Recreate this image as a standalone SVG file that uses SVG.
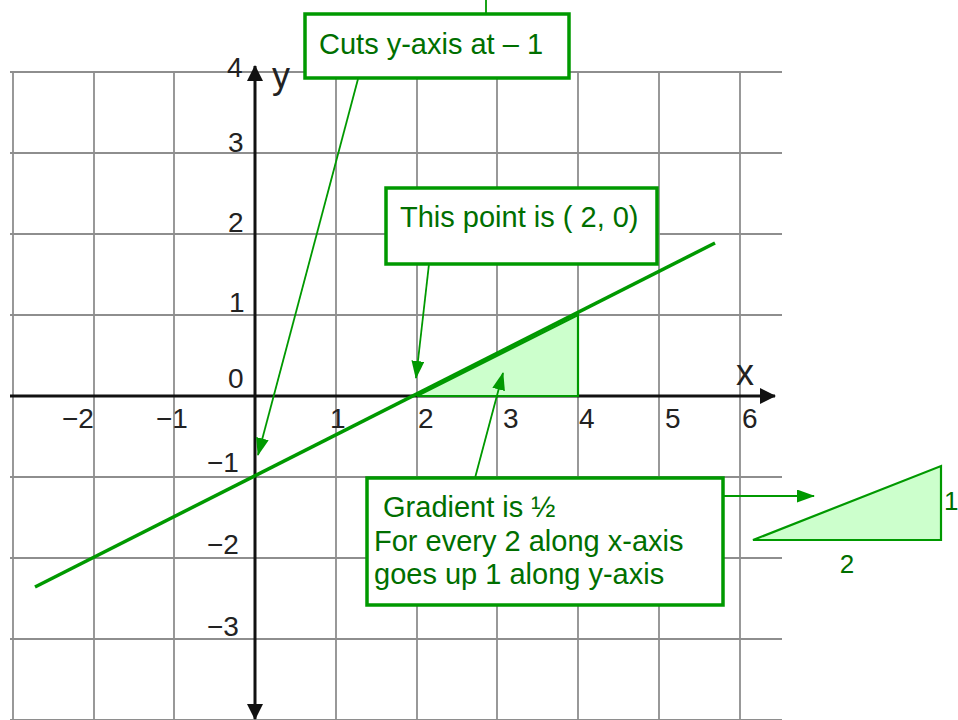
<svg xmlns="http://www.w3.org/2000/svg" width="958" height="720" viewBox="0 0 958 720">
<style>
.grid{stroke:#8e8e8e;stroke-width:1.8;fill:none}
.axis{stroke:#111;stroke-width:3;fill:none}
.num{font-family:"Liberation Sans",Arial,sans-serif;font-size:28px;fill:#222}
.var{font-family:"Liberation Sans",Arial,sans-serif;font-size:36px;fill:#222}
.box{fill:#fff;stroke:#009900;stroke-width:3.5}
.lbl{font-family:"Liberation Sans",Arial,sans-serif;font-size:29px;fill:#006f00}
.lead{stroke:#009900;stroke-width:1.8;fill:none}
.tri{fill:#ccffcc;stroke:#009900;stroke-width:2.2}
</style>
<defs>
<marker id="ga" viewBox="0 0 18 13" refX="17" refY="6.5" markerWidth="18" markerHeight="13" markerUnits="userSpaceOnUse" orient="auto">
<path d="M0,0 L18,6.5 L0,13 Z" fill="#009900"/>
</marker>
<marker id="ka" viewBox="0 0 16 16" refX="15" refY="8" markerWidth="16" markerHeight="16" markerUnits="userSpaceOnUse" orient="auto">
<path d="M0,0 L16,8 L0,16 Z" fill="#111"/>
</marker>
</defs>
<rect width="958" height="720" fill="#fff"/>
<g id="grid">
<path class="grid" d="M13,72V720M94,72V720M174,72V720M336,72V720M417,72V720M497,72V720M578,72V720M659,72V720M740,72V720"/>
<path class="grid" d="M10,72H782M10,153H782M10,234H782M10,315H782M10,477H782M10,558H782M10,639H782M10,720H782"/>
</g>
<g id="axes">
<line class="axis" x1="10" y1="396" x2="775" y2="396" marker-end="url(#ka)"/>
<line class="axis" x1="255" y1="396" x2="255" y2="66" marker-end="url(#ka)"/>
<line class="axis" x1="255" y1="396" x2="255" y2="719" marker-end="url(#ka)"/>
<text class="var" x="272" y="88">y</text>
<text class="var" x="736" y="385">x</text>
<text class="num" x="227" y="77">4</text>
<text class="num" x="228" y="152">3</text>
<text class="num" x="228" y="232">2</text>
<text class="num" x="229" y="312">1</text>
<text class="num" x="228" y="388">0</text>
<text class="num" x="207" y="472">−1</text>
<text class="num" x="207" y="554">−2</text>
<text class="num" x="207" y="636">−3</text>
<text class="num" x="62" y="428">−2</text>
<text class="num" x="156" y="428">−1</text>
<text class="num" x="330" y="428">1</text>
<text class="num" x="418" y="428">2</text>
<text class="num" x="503" y="428">3</text>
<text class="num" x="579" y="428">4</text>
<text class="num" x="665" y="428">5</text>
<text class="num" x="742" y="428">6</text>
</g>
<g id="gradient-triangle">
<path class="tri" d="M417,396 L578,396 L578,315 Z"/>
</g>
<g id="line">
<line x1="35" y1="587" x2="715" y2="243" stroke="#009900" stroke-width="3.5"/>
</g>
<g id="connectors">
<line class="lead" x1="486" y1="0" x2="486" y2="13"/>
<line class="lead" x1="358" y1="79" x2="258" y2="455" marker-end="url(#ga)"/>
<line class="lead" x1="429" y1="264" x2="416" y2="378" marker-end="url(#ga)"/>
<line class="lead" x1="475" y1="478" x2="503" y2="373" marker-end="url(#ga)"/>
<line class="lead" x1="723" y1="496" x2="814" y2="496" marker-end="url(#ga)"/>
</g>
<g id="cuts-box">
<rect class="box" x="305" y="14" width="264" height="64"/>
<text class="lbl" x="319" y="54">Cuts y-axis at – 1</text>
</g>
<g id="point-box">
<rect class="box" x="386" y="188" width="271" height="76"/>
<text class="lbl" x="400" y="227">This point is ( 2, 0)</text>
</g>
<g id="gradient-box">
<rect class="box" x="367" y="478" width="356" height="127"/>
<text class="lbl" x="375" y="517" xml:space="preserve"> Gradient is ½</text>
<text class="lbl" x="374" y="551">For every 2 along x-axis</text>
<text class="lbl" x="374" y="584">goes up 1 along y-axis</text>
</g>
<g id="side-triangle">
<path class="tri" d="M753,540 L941,466 L941,540 Z"/>
<text class="lbl" x="944" y="510" style="font-size:26px">1</text>
<text class="lbl" x="847" y="573" text-anchor="middle" style="font-size:26px">2</text>
</g>
</svg>
